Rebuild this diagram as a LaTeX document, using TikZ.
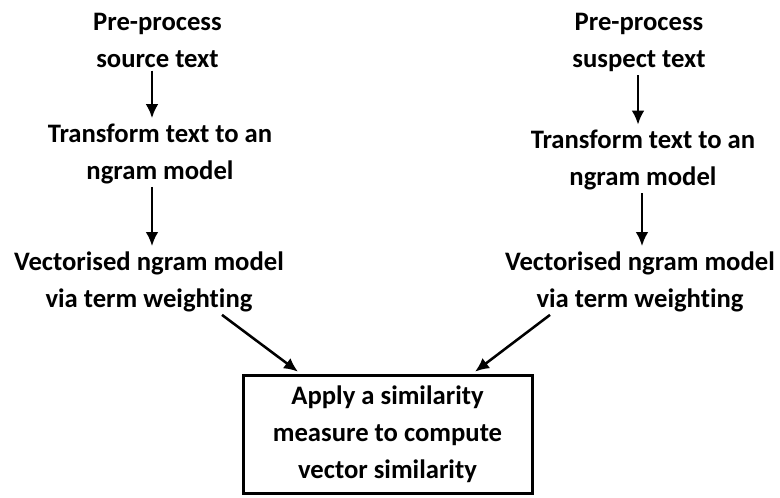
\documentclass[tikz,border=0pt]{standalone}
\usepackage{fontspec}
\setmainfont{Carlito}[Ligatures=NoCommon]
\usetikzlibrary{arrows.meta,calc}
\begin{document}
\begin{tikzpicture}[x=0.75pt,y=-0.75pt,
  lbl/.style={align=center,inner sep=0pt,font=\bfseries\fontsize{20}{27.75}\selectfont},
  arr/.style={line width=1.9pt,-{Latex[length=10.5pt,width=9.5pt]}},
  resultbox/.style={lbl,draw,line width=2.25pt,minimum width=216.75pt,minimum height=89pt}
]
\useasboundingbox (0,0) rectangle (780,497);

% source-text pipeline
\node[lbl] (s1) at (157.5,40) {Pre-process\\source text};
\node[lbl] (s2) at (160,153.5) {Transform text to an\\ngram model};
\node[lbl] (s3) at (149,281.5) {Vectorised ngram model\\via term weighting};

% suspect-text pipeline
\node[lbl] (p1) at (639,42.5) {Pre-process\\suspect text};
\node[lbl] (p2) at (643,160) {Transform text to an\\ngram model};
\node[lbl] (p3) at (640,281.5) {Vectorised ngram model\\via term weighting};

% comparison step
\node[resultbox] (cmp) at (387.5,434.5) {Apply a similarity\\measure to compute\\vector similarity};

% vertical arrow columns
\coordinate (cl) at (152,0);
\coordinate (cr1) at (638,0);
\coordinate (cr2) at (642,0);

\draw[arr] ($(s1.south -| cl)+(0,3)$) -- ($(s2.north -| cl)+(0,-5)$);
\draw[arr] ($(s2.south -| cl)+(0,3)$) -- ($(s3.north -| cl)+(0,-5)$);
\draw[arr] ($(p1.south -| cr1)+(0,3)$) -- ($(p2.north -| cr1)+(0,-5)$);
\draw[arr] ($(p2.south -| cr2)+(0,3)$) -- ($(p3.north -| cr2)+(0,-5)$);

% converging arrows into the comparison box
\draw[arr] ($(s3.south)+(73,3)$) -- ($(cmp.north)+(-89.5,-2)$);
\draw[arr] ($(p3.south)+(-90,3)$) -- ($(cmp.north)+(87.5,-2)$);
\end{tikzpicture}
\end{document}
